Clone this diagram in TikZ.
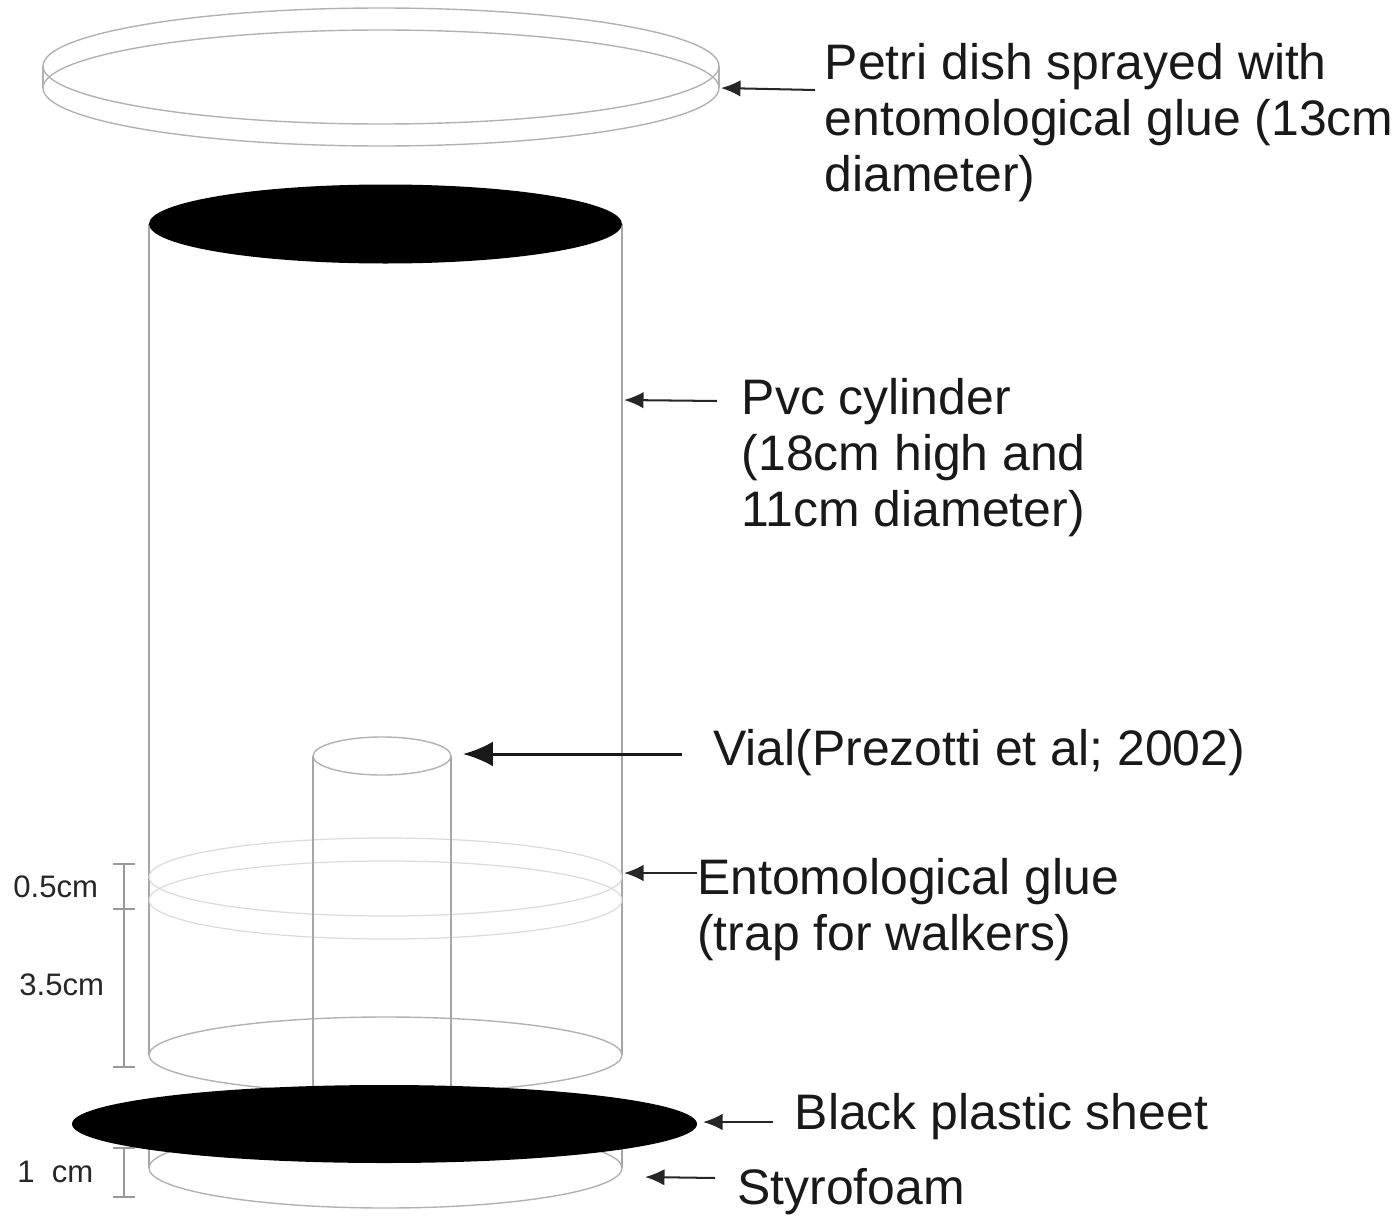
\documentclass[tikz,border=0pt]{standalone}
\usepackage{fontspec}
\setmainfont{Liberation Sans}
\usepackage{tikz}
\usetikzlibrary{arrows.meta}
\tikzset{
  wall/.style={draw=black!35, line width=0.75pt},
  rim/.style={draw=black!30, line width=0.8pt},
  gluering/.style={draw=black!14, line width=0.7pt},
  disc/.style={fill=black},
  dim/.style={draw=black!40, line width=0.7pt},
  lab/.style={anchor=north west, align=left, inner sep=0pt, text=black!90,
              font=\fontsize{28.4}{31.8}\selectfont},
  dimlab/.style={anchor=west, inner sep=0pt, text=black!85,
                 font=\fontsize{17.7}{20}\selectfont},
  ar/.style={-{Latex[length=3.9mm, width=3.3mm]}, line width=1.15pt, draw=black!85},
  arb/.style={-{Latex[length=6mm, width=5mm]}, line width=1.7pt, draw=black!90}
}
\begin{document}
\begin{tikzpicture}[x=0.02cm, y=-0.02cm]
\useasboundingbox (0,0) rectangle (1400,1227);
% petri dish
\draw[rim] (381,66) ellipse [x radius=338, y radius=58];
\draw[rim] (381,88) ellipse [x radius=338, y radius=58];
\draw[rim] (43,66) -- (43,88);
\draw[rim] (719,66) -- (719,88);
% cylinder
\draw[wall] (149,224) -- (149,1055);
\draw[wall] (622,224) -- (622,1055);
\draw[rim] (385.5,1055) ellipse [x radius=236.5, y radius=38];
\fill[disc] (385.5,224) ellipse [x radius=236.5, y radius=39.5];
% glue ring
\foreach \cy in {877,900}
  \draw[gluering] (385.5,\cy) ellipse [x radius=236.5, y radius=39];
% vial
\draw[wall] (313,756) -- (313,1090);
\draw[wall] (451,756) -- (451,1090);
\draw[rim] (382,756) ellipse [x radius=69, y radius=19];
% styrofoam
\draw[wall] (149,1140) -- (149,1168);
\draw[wall] (622,1140) -- (622,1168);
\draw[rim] (385.5,1168) ellipse [x radius=236.5, y radius=40];
% dimensions
\draw[dim] (124,864) -- (124,1067);
\draw[dim] (113,864) -- (135,864);
\draw[dim] (113,909) -- (135,909);
\draw[dim] (113,1067) -- (135,1067);
\draw[dim] (124,1148) -- (124,1197);
\draw[dim] (113,1148) -- (135,1148);
\draw[dim] (113,1197) -- (135,1197);
% sheet
\fill[disc] (384.5,1124) ellipse [x radius=312.5, y radius=39];
% labels
\node[lab] (petri) at (824.5,43) {Petri dish sprayed with\\entomological glue (13cm\\diameter)};
\node[lab] (pvc) at (741.5,378) {Pvc cylinder\\(18cm high and\\11cm diameter)};
\node[lab] (vial) at (713,729) {Vial(Prezotti et al; 2002)};
\node[lab] (glue) at (697,858) {Entomological glue\\(trap for walkers)};
\node[lab] (sheet) at (794.5,1093) {Black plastic sheet};
\node[lab] (foam) at (737,1168) {Styrofoam};
\node[dimlab] (halfcm) at (13,887) {0.5cm};
\node[dimlab] (threecm) at (19,985) {3.5cm};
\node[dimlab] (onecm) at (17,1172) {1\ \ cm};
% arrows
\coordinate (petritail) at (815,90);
\coordinate (petrihead) at (721,88);
\coordinate (pvctail) at (717,401);
\coordinate (pvchead) at (624,400);
\coordinate (vialtail) at (682,754);
\coordinate (vialhead) at (463,754);
\coordinate (gluehead) at (624,873);
\coordinate (sheettail) at (773,1122);
\coordinate (sheethead) at (703,1122);
\coordinate (foamtail) at (715,1178);
\coordinate (foamhead) at (645,1177);
\draw[ar] (petritail) -- (petrihead);
\draw[ar] (pvctail) -- (pvchead);
\draw[arb] (vialtail) -- (vialhead);
\draw[ar] (glue.west |- gluehead) -- (gluehead);
\draw[ar] (sheettail) -- (sheethead);
\draw[ar] (foamtail) -- (foamhead);
\end{tikzpicture}
\end{document}
